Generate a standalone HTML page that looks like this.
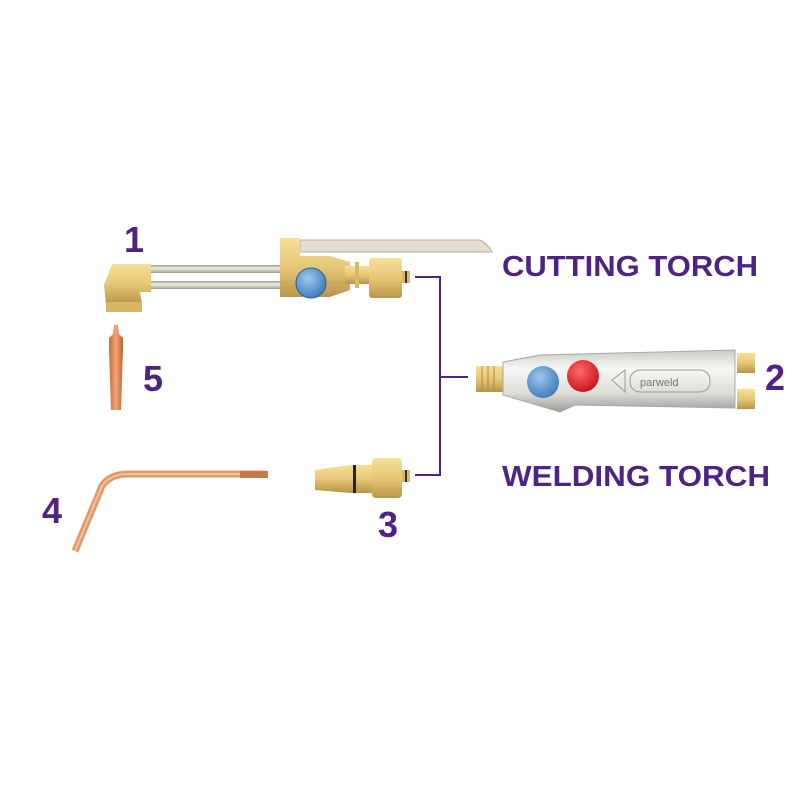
<!DOCTYPE html>
<html><head><style>html,body{margin:0;padding:0;background:#fff}svg{display:block}</style></head>
<body>
<svg width="800" height="800" viewBox="0 0 800 800" xmlns="http://www.w3.org/2000/svg">
<defs>
<linearGradient id="brass" x1="0" y1="0" x2="0" y2="1"><stop offset="0" stop-color="#f6df98"/><stop offset="0.5" stop-color="#e6c777"/><stop offset="1" stop-color="#b8944a"/></linearGradient>
<linearGradient id="silver" x1="0" y1="0" x2="0" y2="1"><stop offset="0" stop-color="#c9c9c6"/><stop offset="0.3" stop-color="#f7f7f5"/><stop offset="0.7" stop-color="#dcdcd9"/><stop offset="1" stop-color="#9a9a96"/></linearGradient>
<linearGradient id="tube" x1="0" y1="0" x2="0" y2="1"><stop offset="0" stop-color="#9a9a90"/><stop offset="0.4" stop-color="#f2f0e8"/><stop offset="1" stop-color="#a09a88"/></linearGradient>
<linearGradient id="copper" x1="0" y1="0" x2="1" y2="0"><stop offset="0" stop-color="#c86a35"/><stop offset="0.5" stop-color="#f3a878"/><stop offset="1" stop-color="#c06030"/></linearGradient>
<radialGradient id="blue" cx="0.4" cy="0.35" r="0.7"><stop offset="0" stop-color="#9cc8ee"/><stop offset="1" stop-color="#3d78b8"/></radialGradient>
<radialGradient id="red" cx="0.4" cy="0.35" r="0.7"><stop offset="0" stop-color="#ff6a6a"/><stop offset="1" stop-color="#c8101a"/></radialGradient>
</defs>

<path d="M415 277 H440 V475 H415 M440 377 H468" fill="none" stroke="#4e2383" stroke-width="2"/>

<!-- cutting torch -->
<path d="M300 240 H480 Q488 244 492 252 H300 Z" fill="#e4ddd0" stroke="#b8b0a0" stroke-width="1"/>
<rect x="150" y="265" width="132" height="8" fill="url(#tube)"/>
<rect x="150" y="281" width="132" height="8" fill="url(#tube)"/>
<path d="M112 264 H151 V292 H140 L142 304 H106 L104 285 Z" fill="url(#brass)"/>
<rect x="106" y="302" width="36" height="10" fill="#d8b866"/>
<path d="M280 238 H300 V256 H330 L350 262 V290 L330 297 H280 Z" fill="url(#brass)"/>
<rect x="345" y="266" width="24" height="18" fill="url(#brass)"/>
<rect x="355" y="262" width="4" height="26" fill="#d8b866"/>
<rect x="369" y="258" width="33" height="40" rx="3" fill="url(#brass)"/>
<rect x="402" y="271" width="8" height="12" fill="#d8b866"/>
<rect x="405" y="271" width="2" height="12" fill="#333"/>
<circle cx="311" cy="283" r="15" fill="url(#blue)" stroke="#2d5f96" stroke-width="1"/>

<!-- tip 5 -->
<path d="M114 325 H118 L119 334 L123 338 V348 L121 410 H111 L109 348 V338 L113 334 Z" fill="url(#copper)"/>

<!-- welding torch -->
<rect x="476" y="366" width="30" height="26" fill="url(#brass)"/>
<g stroke="#b08a40" stroke-width="1"><line x1="482" y1="366" x2="482" y2="392"/><line x1="488" y1="366" x2="488" y2="392"/><line x1="494" y1="366" x2="494" y2="392"/></g>
<path d="M503 362 L540 355 L735 350 V408 L575 405 L560 412 L503 395 Z" fill="url(#silver)" stroke="#a8a8a4" stroke-width="1"/>
<rect x="737" y="353" width="18" height="20" fill="url(#brass)"/>
<rect x="737" y="389" width="18" height="20" fill="url(#brass)"/>
<rect x="630" y="370" width="80" height="22" rx="10" fill="none" stroke="#9a9a96" stroke-width="1"/>
<text x="640" y="386" font-family="Liberation Sans, sans-serif" font-size="11" fill="#777">parweld</text>
<path d="M612 380 L625 370 V392 Z" fill="none" stroke="#9a9a96"/>
<circle cx="543" cy="382" r="16" fill="url(#blue)"/>
<circle cx="583" cy="376" r="16" fill="url(#red)"/>

<!-- tip 4 -->
<path d="M75 551 L102 486 Q110 474 128 474 H265" fill="none" stroke="#e09a68" stroke-width="7"/>
<path d="M75 551 L102 486 Q110 474 128 474 H265" fill="none" stroke="#f5c09a" stroke-width="2"/>
<rect x="240" y="471" width="28" height="7" fill="#c87848"/>

<!-- item 3 -->
<path d="M315 470 L350 465 H372 V493 H350 L315 490 Z" fill="url(#brass)"/>
<rect x="353" y="465" width="3" height="28" fill="#222"/>
<rect x="372" y="458" width="30" height="40" rx="4" fill="url(#brass)"/>
<rect x="402" y="470" width="8" height="12" fill="#d8b866"/>
<rect x="405" y="470" width="2" height="12" fill="#333"/>

<g font-family="Liberation Sans, sans-serif" font-weight="bold" fill="#4e2383">
<text x="502" y="276" font-size="29" textLength="256" lengthAdjust="spacingAndGlyphs">CUTTING TORCH</text>
<text x="502" y="486" font-size="29" textLength="268" lengthAdjust="spacingAndGlyphs">WELDING TORCH</text>
<text x="124" y="252" font-size="36">1</text>
<text x="765" y="390" font-size="36">2</text>
<text x="378" y="537" font-size="36">3</text>
<text x="42" y="523" font-size="36">4</text>
<text x="143" y="391" font-size="36">5</text>
</g>
</svg>
</body></html>
